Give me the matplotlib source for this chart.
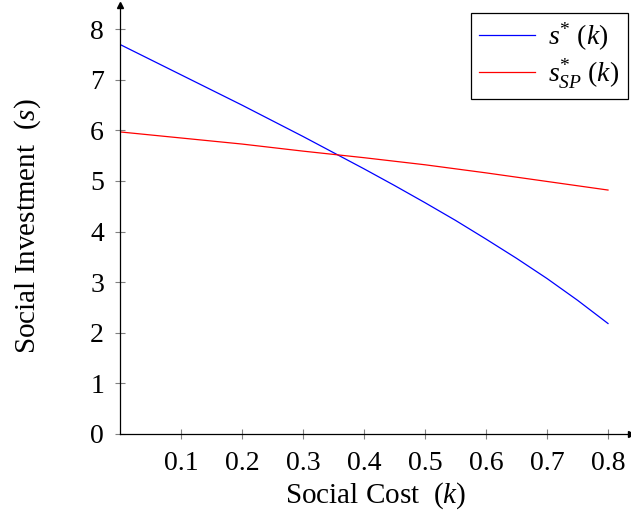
import matplotlib
matplotlib.use("Agg")
import matplotlib.pyplot as plt

plt.rcParams['font.family'] = ['Liberation Serif', 'DejaVu Serif']
plt.rcParams['mathtext.fontset'] = 'custom'
plt.rcParams['mathtext.rm'] = 'Liberation Serif'
plt.rcParams['mathtext.it'] = 'Liberation Serif:italic'

# values
k = [0.0, 0.05, 0.1, 0.15, 0.2, 0.25, 0.3, 0.35, 0.4,
     0.45, 0.5, 0.55, 0.6, 0.65, 0.7, 0.75, 0.8]
s_star = [7.70, 7.40, 7.10, 6.80, 6.50, 6.19, 5.88, 5.56, 5.24,
          4.91, 4.57, 4.22, 3.85, 3.47, 3.07, 2.64, 2.18]
s_sp = [5.97, 5.91, 5.85, 5.79, 5.73, 5.66, 5.59, 5.525, 5.46,
        5.39, 5.32, 5.24, 5.16, 5.075, 4.99, 4.905, 4.82]

xticks = [0.1, 0.2, 0.3, 0.4, 0.5, 0.6, 0.7, 0.8]
xtick_labels = ['0.1', '0.2', '0.3', '0.4', '0.5', '0.6', '0.7', '0.8']
yticks = [0, 1, 2, 3, 4, 5, 6, 7, 8]

fig = plt.figure(figsize=(6.31, 5.19), dpi=100)
ax = fig.add_axes([120 / 631, 85.3 / 519, 511 / 631, 428.7 / 519])

ax.plot(k, s_star, color='blue', lw=0.9, label=r'$s^{*}\ (k)$')
ax.plot(k, s_sp, color='red', lw=0.9, label=r'$s^{*}_{SP}\ (k)$')

ax.set_xlim(0, 511 / 610)
ax.set_ylim(0, 428.7 / 50.55)

ax.spines['top'].set_visible(False)
ax.spines['right'].set_visible(False)
for side in ['left', 'bottom']:
    ax.spines[side].set_linewidth(0.9)
    ax.spines[side].set_color('black')

# arrow heads at the ends of the axis lines
ax.plot(1, 0, marker='>', color='black', ms=5, transform=ax.transAxes, clip_on=False)
ax.plot(0, 1, marker='^', color='black', ms=5, transform=ax.transAxes, clip_on=False)

ax.set_xticks(xticks)
ax.set_xticklabels(xtick_labels)
ax.set_yticks(yticks)
ax.tick_params(direction='inout', length=7, width=0.8, color='#808080',
               labelsize=20)
ax.tick_params(axis='x', pad=9)
ax.tick_params(axis='y', pad=8)

ax.set_xlabel(r'Social Cost  $(k)$', fontsize=21, labelpad=3)
ax.set_ylabel(r'Social Investment  $(s)$', fontsize=21)
ax.yaxis.set_label_coords(-0.15, 0.485)

leg = ax.legend(loc='upper right', bbox_to_anchor=((628 - 120) / 511, 1 - 7.7 / 428.7),
                fontsize=20, frameon=True, fancybox=False, framealpha=1,
                edgecolor='black', handlelength=2.0, borderpad=0.3,
                labelspacing=0.15, handletextpad=0.5, borderaxespad=0)
leg.get_frame().set_linewidth(0.9)

fig.savefig('out.png', dpi=100)
